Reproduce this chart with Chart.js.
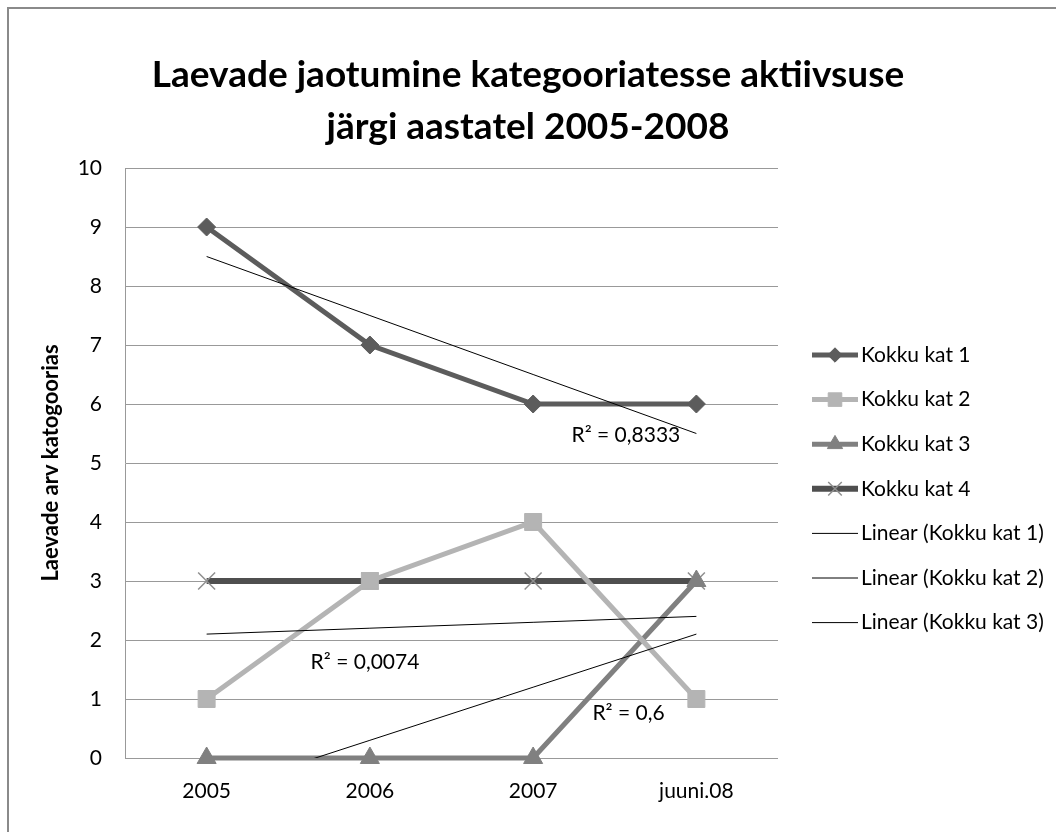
<!DOCTYPE html>
<html>
<head>
<meta charset="utf-8">
<script src="https://cdn.jsdelivr.net/npm/chart.js@4"></script>
<style>
  html, body { margin: 0; padding: 0; background: #fff; }
  #wrap { width: 1056px; height: 832px; }
</style>
</head>
<body>
<div id="wrap"><canvas id="c" width="1056" height="832"></canvas></div>
<script>
// Andmed
const labels = ['2005', '2006', '2007', 'juuni.08'];

const kat1 = [9, 7, 6, 6];
const kat2 = [1, 3, 4, 1];
const kat3 = [0, 0, 0, 3];
const kat4 = [3, 3, 3, 3];

// trendijooned (loetud pildilt)
const lin1 = [8.5, 7.5, 6.5, 5.5];
const lin2 = [2.1, 2.2, 2.3, 2.4];
const lin3 = [-0.6, 0.3, 1.2, 2.1];

const r2Labels = [
  { text: 'R\u00b2 = 0,8333', x: 2.235, y: 5.47 },
  { text: 'R\u00b2 = 0,0074', x: 0.637, y: 1.62 },
  { text: 'R\u00b2 = 0,6', x: 2.363, y: 0.76 },
];

const FONT = 'Lato, "Open Sans", sans-serif';

// Pealkiri, raam, R2 sildid ja legend
const decorPlugin = {
  id: 'decor',
  beforeDraw(chart) {
    const ctx = chart.ctx;
    ctx.save();
    ctx.fillStyle = '#fff';
    ctx.fillRect(0, 0, chart.width, chart.height);
    ctx.strokeStyle = '#8a8a8a';
    ctx.lineWidth = 2;
    ctx.strokeRect(8, 8, 2000, 2000);
    ctx.restore();
  },
  afterDraw(chart) {
    const ctx = chart.ctx;
    const xs = chart.scales.x, ys = chart.scales.y;
    ctx.save();
    // pealkiri
    ctx.fillStyle = '#000';
    ctx.textAlign = 'center';
    ctx.textBaseline = 'middle';
    ctx.font = 'bold 37px ' + FONT;
    ctx.fillText('Laevade jaotumine kategooriatesse aktiivsuse', 528, 75);
    ctx.fillText('järgi aastatel 2005-2008', 528, 127);

    // R2 sildid
    ctx.font = '21px ' + FONT;
    ctx.textAlign = 'left';
    r2Labels.forEach(l => {
      ctx.fillText(l.text, xs.getPixelForValue(l.x), ys.getPixelForValue(l.y));
    });

    // legend
    const x0 = 812, x1 = 858, y0 = 355, step = 44.6;
    ctx.font = '21px ' + FONT;
    chart.data.datasets.forEach((ds, i) => {
      const y = y0 + i * step;
      ctx.strokeStyle = ds.borderColor;
      ctx.lineWidth = ds.borderWidth;
      ctx.beginPath();
      ctx.moveTo(x0, y);
      ctx.lineTo(x1, y);
      ctx.stroke();
      if (ds.pointStyle && ds.pointRadius > 0) {
        ctx.fillStyle = ds.pointBackgroundColor;
        ctx.strokeStyle = ds.pointBorderColor;
        ctx.lineWidth = ds.pointBorderWidth;
        Chart.helpers.drawPoint(ctx, {
          pointStyle: ds.pointStyle,
          radius: ds.pointRadius * 0.8,
          borderWidth: ds.pointBorderWidth,
          rotation: 0
        }, (x0 + x1) / 2, y);
      }
      ctx.fillStyle = '#000';
      ctx.fillText(ds.label, x1 + 3, y);
    });
    ctx.restore();
  }
};

function series(label, data, color, width, style, radius, ptBorder, ptBorderWidth, order) {
  return {
    label, data,
    borderColor: color,
    backgroundColor: color,
    borderWidth: width,
    pointStyle: style,
    pointRadius: radius,
    pointHoverRadius: radius,
    pointBackgroundColor: ptBorder ? 'transparent' : color,
    pointBorderColor: ptBorder || color,
    pointBorderWidth: ptBorderWidth,
    tension: 0,
    clip: false,
    order
  };
}

function trend(label, data) {
  return {
    label, data,
    borderColor: '#000',
    backgroundColor: '#000',
    borderWidth: 1,
    pointRadius: 0,
    pointHoverRadius: 0,
    tension: 0,
    clip: 0,
    order: 0
  };
}

new Chart(document.getElementById('c'), {
  type: 'line',
  plugins: [decorPlugin],
  data: {
    labels,
    datasets: [
      series('Kokku kat 1', kat1, '#5c5c5c', 5, 'rectRot', 9, null, 1, 1),
      series('Kokku kat 2', kat2, '#b4b4b4', 5, 'rect', 12, null, 1, 2),
      series('Kokku kat 3', kat3, '#808080', 5, 'triangle', 11, null, 1, 3),
      series('Kokku kat 4', kat4, '#4f4f4f', 6, 'crossRot', 12, '#8f8f8f', 1.5, 4),
      trend('Linear (Kokku kat 1)', lin1),
      trend('Linear (Kokku kat 2)', lin2),
      trend('Linear (Kokku kat 3)', lin3),
    ]
  },
  options: {
    responsive: false,
    animation: false,
    events: [],
    layout: { padding: { top: 168, left: 0, right: 278, bottom: 0 } },
    plugins: {
      legend: { display: false },
      tooltip: { enabled: false },
      title: { display: false }
    },
    scales: {
      x: {
        offset: true,
        afterFit: s => { s.height = 74; },
        border: { display: false },
        grid: { display: false, drawTicks: false },
        ticks: { padding: 21, color: '#000', font: { family: FONT, size: 21 } }
      },
      y: {
        min: 0, max: 10,
        afterFit: s => { s.width = 125; },
        border: { display: true, color: '#999', width: 1 },
        grid: { color: '#999', lineWidth: 1, drawTicks: false },
        ticks: { stepSize: 1, padding: 23, color: '#000', font: { family: FONT, size: 21 } },
        title: {
          display: true,
          text: 'Laevade arv katogoorias',
          color: '#000',
          padding: { top: 38, bottom: 0 },
          font: { family: FONT, size: 22, weight: 'bold' }
        }
      }
    }
  }
});
</script>
</body>
</html>
